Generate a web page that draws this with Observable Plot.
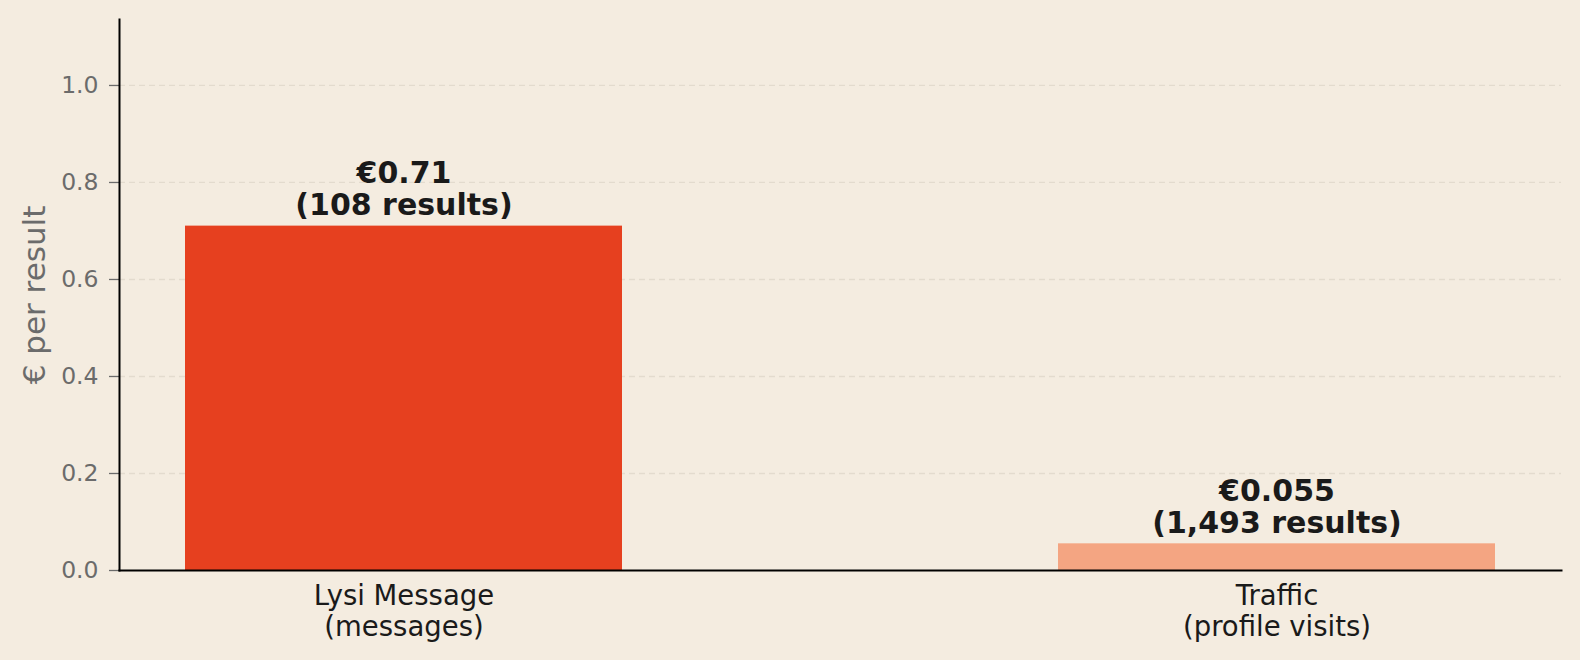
<!DOCTYPE html>
<html>
<head>
<meta charset="utf-8">
<script src="https://cdn.jsdelivr.net/npm/d3@7"></script>
<script src="https://cdn.jsdelivr.net/npm/@observablehq/plot@0.6"></script>
<style>
  html, body { margin: 0; padding: 0; background: #F4ECE0; overflow: hidden; }
  #chart { width: 1580px; height: 660px; overflow: hidden; }
  #chart svg { display: block; font-family: "DejaVu Sans", sans-serif; }
</style>
</head>
<body>
<div id="chart"></div>
<script>
// ---- data ----
const categories = ["Lysi Message", "Traffic"];
const subLabels = ["(messages)", "(profile visits)"];
const costPerResult = [0.71, 0.055];
const costLabels = ["€0.71", "€0.055"];
const resultCounts = ["108 results", "1,493 results"];
const barColors = ["#E6401F", "#F4A582"];
const yTicks = [0.0, 0.2, 0.4, 0.6, 0.8, 1.0];
const yMax = 1.136;

const data = categories.map((c, i) => ({
  cat: c,
  tick: c + "\n" + subLabels[i],
  value: costPerResult[i],
  label: costLabels[i] + "\n(" + resultCounts[i] + ")",
  color: barColors[i]
}));

const chart = Plot.plot({
  width: 1580,
  height: 660,
  marginLeft: 119,
  marginRight: 19,
  marginTop: 19,
  marginBottom: 90,
  style: { background: "#F4ECE0", fontFamily: "DejaVu Sans, sans-serif" },
  x: { type: "band", domain: categories, paddingInner: 0.5, paddingOuter: 0.075, axis: null },
  y: { domain: [0, yMax] },
  marks: [
    Plot.ruleY(yTicks.filter(d => d > 0), { stroke: "#E3DBCE", strokeWidth: 1.3, strokeDasharray: "6,4" }),
    Plot.barY(data, { x: "cat", y: "value", fill: "color" }),
    Plot.axisY({
      ticks: yTicks,
      tickFormat: d3.format(".1f"),
      tickSize: 10,
      tickPadding: 11,
      stroke: "#6B6B6B",
      strokeWidth: 1.3,
      color: "#6B6B6B",
      fontSize: 23.5,
      label: "€ per result",
      labelAnchor: "center",
      labelArrow: "none",
      labelOffset: 97
    }),
    Plot.text(data, {
      x: "cat",
      text: "tick",
      frameAnchor: "bottom",
      lineAnchor: "top",
      lineHeight: 1.11,
      dy: 13,
      fontSize: 27.5,
      fill: "#1A1A1A"
    }),
    Plot.text(data, {
      x: "cat",
      y: "value",
      text: "label",
      lineAnchor: "bottom",
      lineHeight: 1.07,
      dy: -11,
      fontSize: 30,
      fontWeight: "bold",
      fill: "#1A1A1A"
    }),
    Plot.frame({ anchor: "left", stroke: "#000", strokeWidth: 2 }),
    Plot.frame({ anchor: "bottom", stroke: "#000", strokeWidth: 2 })
  ]
});

// style the y-axis label
d3.select(chart).selectAll("g[aria-label='y-axis label'] text")
  .attr("font-size", 31).attr("fill", "#6B6B6B");

document.getElementById("chart").appendChild(chart);
</script>
</body>
</html>
